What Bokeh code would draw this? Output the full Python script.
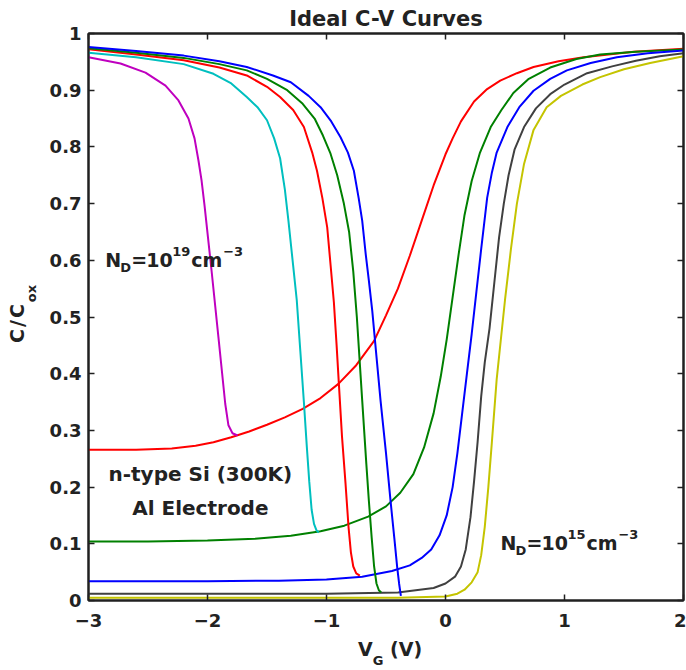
from bokeh.plotting import figure
from bokeh.models import Range1d, FixedTicker, LinearAxis, Label, CustomJSTickFormatter, Div
from bokeh.layouts import row, column
from bokeh.embed import file_html
from bokeh.resources import INLINE

# ---------------- data ----------------
x_ticks = [-3, -2, -1, 0, 1, 2]
y_ticks = [0, 0.1, 0.2, 0.3, 0.4, 0.5, 0.6, 0.7, 0.8, 0.9, 1.0]

# high-frequency branches
v_yellow = [-3, -1.0, -0.4, 0.0, 0.1, 0.16, 0.22, 0.27, 0.30, 0.33, 0.36, 0.39, 0.43, 0.47, 0.50, 0.55, 0.60, 0.66, 0.74, 0.85, 0.97, 1.15, 1.30, 1.50, 1.72, 2.0]
c_yellow = [0.005, 0.005, 0.005, 0.007, 0.012, 0.019, 0.032, 0.05, 0.08, 0.13, 0.20, 0.28, 0.39, 0.47, 0.53, 0.62, 0.70, 0.77, 0.83, 0.87, 0.89, 0.91, 0.923, 0.937, 0.948, 0.96]

v_black = [-3, -1, -0.4, -0.1, 0.0, 0.08, 0.13, 0.17, 0.21, 0.24, 0.27, 0.30, 0.33, 0.37, 0.41, 0.45, 0.49, 0.53, 0.58, 0.66, 0.76, 0.88, 1.0, 1.19, 1.4, 1.6, 1.8, 2.0]
c_black = [0.012, 0.012, 0.014, 0.022, 0.03, 0.042, 0.06, 0.09, 0.147, 0.21, 0.28, 0.36, 0.42, 0.48, 0.56, 0.64, 0.70, 0.75, 0.795, 0.835, 0.868, 0.893, 0.91, 0.93, 0.942, 0.952, 0.96, 0.965]

v_blue_hf = [-3, -2, -1.4, -1.0, -0.7, -0.45, -0.3, -0.2, -0.12, -0.05, 0.01, 0.06, 0.10, 0.14, 0.18, 0.22, 0.26, 0.30, 0.35, 0.39, 0.43, 0.52, 0.62, 0.74, 0.88, 1.02, 1.22, 1.44, 1.7, 2.0]
c_blue_hf = [0.034, 0.034, 0.035, 0.037, 0.042, 0.052, 0.062, 0.075, 0.09, 0.115, 0.15, 0.2, 0.26, 0.33, 0.40, 0.47, 0.545, 0.62, 0.71, 0.755, 0.79, 0.835, 0.87, 0.899, 0.92, 0.935, 0.948, 0.958, 0.965, 0.97]

v_green_hf = [-3, -2.5, -2.0, -1.6, -1.3, -1.05, -0.85, -0.65, -0.5, -0.38, -0.27, -0.18, -0.1, -0.04, 0.01, 0.06, 0.11, 0.16, 0.22, 0.29, 0.38, 0.47, 0.57, 0.7, 0.88, 1.1, 1.3, 1.6, 2.0]
c_green_hf = [0.104, 0.104, 0.106, 0.109, 0.114, 0.122, 0.132, 0.148, 0.166, 0.19, 0.223, 0.27, 0.33, 0.395, 0.46, 0.535, 0.61, 0.68, 0.74, 0.79, 0.835, 0.865, 0.895, 0.92, 0.94, 0.955, 0.963, 0.968, 0.972]

v_red_hf = [-3, -2.6, -2.3, -2.1, -1.95, -1.8, -1.65, -1.5, -1.35, -1.2, -1.05, -0.9, -0.75, -0.6, -0.5, -0.4, -0.3, -0.2, -0.1, 0.0, 0.06, 0.13, 0.24, 0.35, 0.46, 0.6, 0.74, 0.95, 1.16, 1.58, 2.0]
c_red_hf = [0.266, 0.266, 0.268, 0.273, 0.279, 0.288, 0.298, 0.31, 0.323, 0.338, 0.357, 0.382, 0.415, 0.458, 0.503, 0.55, 0.608, 0.67, 0.732, 0.787, 0.815, 0.845, 0.88, 0.902, 0.917, 0.93, 0.941, 0.951, 0.958, 0.968, 0.973]

# low-frequency (inversion) branches
v_magenta = [-3, -2.731, -2.521, -2.353, -2.244, -2.16, -2.109, -2.076, -2.05, -2.025, -1.966, -1.908, -1.851, -1.824, -1.79, -1.748]
c_magenta = [0.958, 0.947, 0.931, 0.908, 0.882, 0.85, 0.815, 0.776, 0.741, 0.697, 0.582, 0.464, 0.347, 0.309, 0.295, 0.291]

v_cyan = [-3, -2.6, -2.2, -1.95, -1.8, -1.67, -1.58, -1.5, -1.44, -1.39, -1.35, -1.32, -1.28, -1.25, -1.22, -1.19, -1.165, -1.145, -1.125, -1.105, -1.085, -1.065]
c_cyan = [0.966, 0.958, 0.946, 0.929, 0.912, 0.888, 0.87, 0.847, 0.815, 0.78, 0.725, 0.67, 0.59, 0.53, 0.44, 0.35, 0.27, 0.21, 0.16, 0.135, 0.124, 0.12]

v_red_lf = [-3, -2.6, -2.2, -1.9, -1.67, -1.5, -1.39, -1.28, -1.19, -1.12, -1.08, -1.035, -0.994, -0.965, -0.938, -0.915, -0.896, -0.87, -0.84, -0.815, -0.795, -0.775, -0.75, -0.72]
c_red_lf = [0.972, 0.963, 0.953, 0.94, 0.926, 0.906, 0.888, 0.865, 0.835, 0.79, 0.758, 0.71, 0.658, 0.59, 0.526, 0.45, 0.382, 0.29, 0.206, 0.13, 0.085, 0.06, 0.048, 0.044]

v_green_lf = [-3, -2.6, -2.2, -1.9, -1.67, -1.5, -1.33, -1.2, -1.1, -1.03, -0.966, -0.91, -0.854, -0.81, -0.775, -0.745, -0.70, -0.665, -0.644, -0.62, -0.60, -0.58, -0.56, -0.54]
c_green_lf = [0.974, 0.966, 0.957, 0.946, 0.935, 0.92, 0.9, 0.876, 0.85, 0.82, 0.788, 0.75, 0.70, 0.65, 0.58, 0.50, 0.353, 0.24, 0.176, 0.11, 0.06, 0.03, 0.018, 0.014]

v_blue_lf = [-3, -2.6, -2.2, -1.9, -1.67, -1.45, -1.3, -1.15, -1.05, -0.96, -0.882, -0.82, -0.77, -0.73, -0.70, -0.67, -0.644, -0.615, -0.58, -0.546, -0.50, -0.462, -0.43, -0.406, -0.39, -0.375]
c_blue_lf = [0.976, 0.969, 0.961, 0.951, 0.941, 0.926, 0.914, 0.89, 0.87, 0.845, 0.817, 0.79, 0.758, 0.71, 0.67, 0.61, 0.564, 0.51, 0.43, 0.353, 0.26, 0.176, 0.11, 0.059, 0.03, 0.008]

# ---------------- styling ----------------
BLUE = "#0000ff"
GREEN = "#008000"
RED = "#ff0000"
CYAN = "#00bfbf"
MAGENTA = "#bf00bf"
YELLOW = "#c4c400"
BLACK = "#404040"
FONT = "DejaVu Sans"
INK = "#222222"

p = figure(width=642, height=640, x_range=Range1d(-3, 2), y_range=Range1d(0, 1),
           output_backend="svg", toolbar_location=None,
           min_border_left=44, min_border_right=3, min_border_top=33, min_border_bottom=40)
p.background_fill_color = "white"
p.border_fill_color = "white"
p.outline_line_color = "#202020"
p.outline_line_width = 2
p.xgrid.grid_line_color = None
p.ygrid.grid_line_color = None

p.title.text = "Ideal C-V Curves"
p.title.align = "center"
p.title.offset = 6
p.title.standoff = 5
p.title.text_font = FONT
p.title.text_font_style = "bold"
p.title.text_font_size = "21px"
p.title.text_color = INK

xt = FixedTicker(ticks=x_ticks, minor_ticks=[])
yt = FixedTicker(ticks=y_ticks, minor_ticks=[])
yfmt = CustomJSTickFormatter(code="var s = tick.toFixed(1); if (s.endsWith('.0')) { s = s.slice(0, -2); } return s;")
xfmt = CustomJSTickFormatter(code="return (tick < 0 ? '\u2212' : '') + Math.abs(tick).toFixed(0);")
nofmt = CustomJSTickFormatter(code="return '';")

def style_axis(ax):
    ax.axis_line_color = "#202020"
    ax.axis_line_width = 2
    ax.major_tick_in = 6
    ax.major_tick_out = 0
    ax.major_tick_line_color = "#202020"
    ax.major_tick_line_width = 1.5
    ax.minor_tick_line_color = None
    ax.major_label_text_font = FONT
    ax.major_label_text_font_style = "bold"
    ax.major_label_text_color = INK
    ax.major_label_text_font_size = "18px"

xa = p.xaxis[0]
xa.ticker = xt
xa.formatter = xfmt
style_axis(xa)
xa.major_label_standoff = 13

ya = p.yaxis[0]
ya.ticker = yt
ya.formatter = yfmt
style_axis(ya)
ya.major_label_standoff = 7

top_axis = LinearAxis(ticker=xt, formatter=nofmt)
style_axis(top_axis)
top_axis.major_label_text_font_size = "1px"
top_axis.major_label_standoff = 0
p.add_layout(top_axis, "above")
right_axis = LinearAxis(ticker=yt, formatter=nofmt)
style_axis(right_axis)
right_axis.major_label_text_font_size = "1px"
right_axis.major_label_standoff = 0
p.add_layout(right_axis, "right")

# ---------------- curves ----------------
LW = 2
p.line(v_red_hf, c_red_hf, line_color=RED, line_width=LW)
p.line(v_green_hf, c_green_hf, line_color=GREEN, line_width=LW)
p.line(v_blue_hf, c_blue_hf, line_color=BLUE, line_width=LW)
p.line(v_black, c_black, line_color=BLACK, line_width=LW)
p.line(v_yellow, c_yellow, line_color=YELLOW, line_width=LW)
p.line(v_magenta, c_magenta, line_color=MAGENTA, line_width=LW)
p.line(v_cyan, c_cyan, line_color=CYAN, line_width=LW)
p.line(v_red_lf, c_red_lf, line_color=RED, line_width=LW)
p.line(v_green_lf, c_green_lf, line_color=GREEN, line_width=LW)
p.line(v_blue_lf, c_blue_lf, line_color=BLUE, line_width=LW)

# ---------------- texts inside the frame ----------------
def piece(x, y, text, dx, dy, size, align="left"):
    p.add_layout(Label(x=x, y=y, x_offset=dx, y_offset=dy, text=text,
                       text_font=FONT, text_font_style="bold", text_font_size=size,
                       text_color=INK, text_align=align, text_baseline="alphabetic"))

def nd_label(x, y, exp):
    piece(x, y, "N", 0, 0, "19px")
    piece(x, y, "D", 15, -8, "13px")
    piece(x, y, "=", 26, 0, "19px")
    piece(x, y, "10", 41, 0, "19px")
    piece(x, y, exp, 67, 8, "13px")
    piece(x, y, "cm", 86, 0, "19px")
    piece(x, y, "\u22123", 118, 8, "13px")

nd_label(-2.86, 0.601, "19")
nd_label(0.462, 0.102, "15")

piece(-2.06, 0.223, "n-type Si (300K)", 0, 0, "20px", align="center")
piece(-2.06, 0.164, "Al Electrode", 0, 0, "20px", align="center")

# ---------------- axis labels (HTML, with sub-scripts) ----------------
TXT = "font-family:'DejaVu Sans';font-weight:bold;font-size:19px;line-height:19px;color:#222222;white-space:nowrap;"
ylab = Div(width=44, height=670, margin=0,
           text=("<div style=\"position:relative;width:44px;height:670px;\">"
                 "<div style=\"position:absolute;left:8px;top:343px;transform:rotate(-90deg);"
                 "transform-origin:0 0;letter-spacing:2px;" + TXT + "\">C/C"
                 "<span style=\"font-size:13px;position:relative;top:12px;letter-spacing:0;\">ox</span>"
                 "</div></div>"))
xlab = Div(width=642, height=30, margin=0,
           text=("<div style=\"position:relative;width:642px;height:30px;\">"
                 "<div style=\"position:absolute;left:314px;top:0px;" + TXT + "\">V"
                 "<span style=\"font-size:13px;position:relative;top:9px;\">G</span> (V)"
                 "</div></div>"))

layout = row(ylab, column(p, xlab, spacing=0), spacing=0)

open("out.html", "w").write(file_html(layout, INLINE))
